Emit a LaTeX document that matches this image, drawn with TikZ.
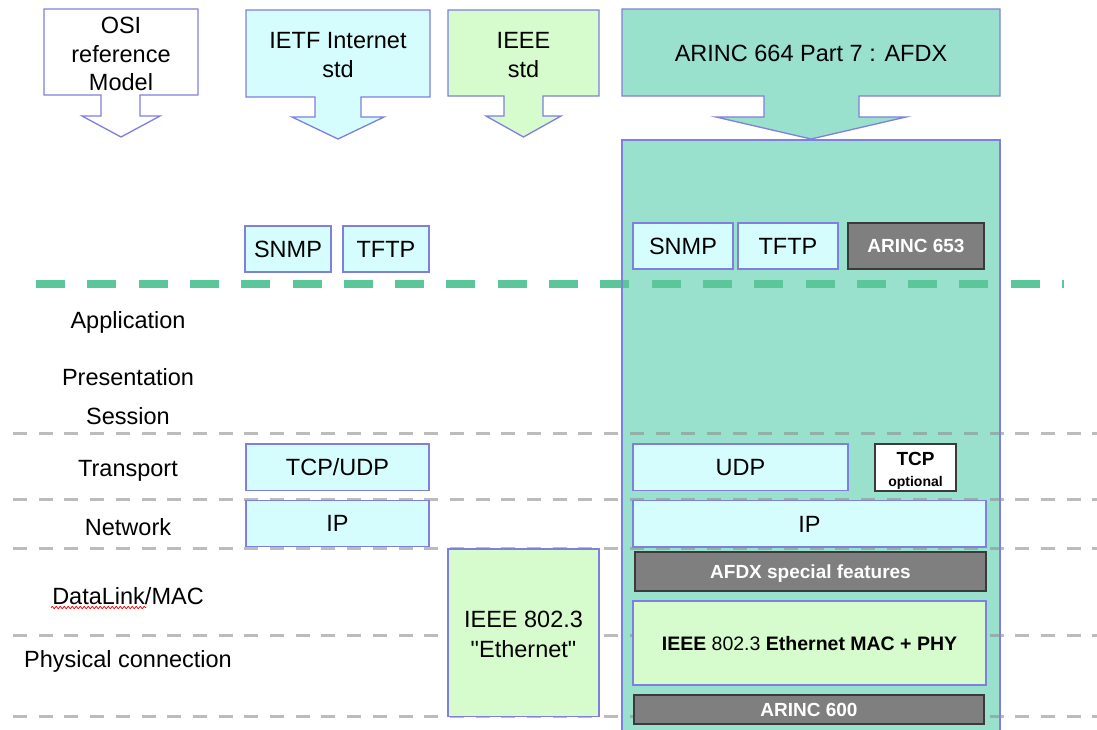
\documentclass[tikz,border=0pt]{standalone}
\usepackage{fontspec}
\setmainfont{Liberation Sans}[Ligatures=TeXOff]
\usetikzlibrary{decorations.pathmorphing}
\definecolor{bordblue}{HTML}{7F7FDF}
\definecolor{cyanf}{HTML}{D6FDFD}
\definecolor{greenf}{HTML}{D6FCCD}
\definecolor{tealf}{HTML}{99E1CC}
\definecolor{dashgreen}{HTML}{5CC69B}
\definecolor{darkf}{HTML}{7F7F7F}
\definecolor{darkb}{HTML}{3A3A3A}
\definecolor{dashgray}{HTML}{909090}
\tikzset{
  bord/.style={draw=bordblue, line width=1.3pt},
  bigfont/.style={font=\fontsize{23.5}{28}\selectfont},
  lbl/.style={bigfont, inner sep=0pt, anchor=base},
  cbox/.style={bord, fill=cyanf, inner sep=0pt, text height=16.8pt, text depth=0pt, bigfont},
  gbox/.style={bord, fill=greenf, inner sep=0pt},
  dbox/.style={draw=darkb, line width=1.3pt, fill=darkf, text=white, inner sep=0pt,
    font=\bfseries\fontsize{19}{23}\selectfont, text height=13.6pt, text depth=0pt},
  layerline/.style={draw=dashgray, opacity=0.6, line width=3pt, dash pattern=on 14pt off 11.7pt},
  appline/.style={draw=dashgreen, line width=8pt, dash pattern=on 29pt off 22.3pt},
}
\begin{document}
\begin{tikzpicture}[x=1pt,y=-1pt]
\useasboundingbox (0,0) rectangle (1097,729);
\fill[white] (0,0) rectangle (1097,729);

% header arrows
\draw[bord, fill=white] (44,9) -- (198,9) -- (198,95) -- (140,95) -- (140,116) -- (160,116)
  -- (121,137) -- (82,116) -- (101,116) -- (101,95) -- (44,95) -- cycle;
\draw[bord, fill=cyanf] (246,10) -- (430,10) -- (430,97) -- (361,97) -- (361,117) -- (384,117)
  -- (338,139) -- (292,117) -- (315,117) -- (315,97) -- (246,97) -- cycle;
\draw[bord, fill=greenf] (448,10) -- (599,10) -- (599,96) -- (543,96) -- (543,116) -- (561,116)
  -- (523.5,137) -- (486,116) -- (504,116) -- (504,96) -- (448,96) -- cycle;
\draw[bord, fill=tealf] (622,9) -- (1000,9) -- (1000,96) -- (859,96) -- (859,117) -- (906,117)
  -- (811,139) -- (716,117) -- (764,117) -- (764,96) -- (622,96) -- cycle;

% big AFDX column
\fill[tealf] (622,140) rectangle (1000,740);

% layer separators
\draw[layerline] (13,433) -- (1097,433);
\draw[layerline] (13,499) -- (1097,499);
\draw[layerline] (13,548) -- (1097,548);
\draw[layerline] (13,635) -- (1097,635);
\draw[layerline] (13,716) -- (1097,716);
\draw[appline] (36,284) -- (1064,284);

\draw[bord] (622,740) -- (622,140) -- (1000,140) -- (1000,740);

% header texts
\node[lbl] (osi1) at (121,33) {OSI};
\node[lbl] (osi2) at (121,62) {reference};
\node[lbl] (osi3) at (121,90) {Model};
\node[lbl] (ietf1) at (338,48) {IETF Internet};
\node[lbl] (ietf2) at (338,77) {std};
\node[lbl] (ieee1) at (523.5,48) {IEEE};
\node[lbl] (ieee2) at (523.5,77) {std};
\node[lbl] (afdxt) at (811,61.7) {ARINC 664 Part 7 : AFDX};

% layer labels
\node[lbl] (app) at (128,328) {Application};
\node[lbl] (pres) at (128,385) {Presentation};
\node[lbl] (sess) at (128,424) {Session};
\node[lbl] (trans) at (128,476) {Transport};
\node[lbl] (net) at (128,535) {Network};
\node[lbl] (dl) at (128,604) {DataLink/MAC};
\node[lbl] (phys) at (128,667) {Physical connection};
\draw[red!85!black, line width=0.7pt, decorate, decoration={snake, amplitude=1.1pt, segment length=4pt}]
  (51,607.5) -- (146,607.5);

% IETF column
\node[cbox, minimum width=86, minimum height=46] (snmpL) at (288,249) {SNMP};
\node[cbox, minimum width=86, minimum height=46] (tftpL) at (386,249) {TFTP};
\node[cbox, minimum width=183, minimum height=46.5] (tcpudpL) at (337.5,467.2) {TCP/UDP};
\node[cbox, minimum width=183, minimum height=46] (ipL) at (337.5,523.5) {IP};

% IEEE column
\node[gbox, minimum width=151, minimum height=167.5] (ieee8023) at (523.5,632.75) {};
\node[lbl] (ieeeA) at (523.5,627) {IEEE 802.3};
\node[lbl] (ieeeB) at (523.5,657) {"Ethernet"};

% AFDX column
\node[cbox, minimum width=100, minimum height=46] (snmpR) at (683,246) {SNMP};
\node[cbox, minimum width=100, minimum height=46] (tftpR) at (788,246) {TFTP};
\node[dbox, minimum width=136, minimum height=46] (a653) at (916,246) {ARINC 653};
\node[cbox, minimum width=215, minimum height=46.5] (udpR) at (740.5,467.25) {UDP};
\node[draw=darkb, line width=1.3pt, fill=white, minimum width=81, minimum height=47] (tcpopt) at (915.5,467.5) {};
\node[inner sep=0pt, anchor=base, font=\bfseries\fontsize{19}{23}\selectfont] (tcpt) at (915.5,465.7) {TCP};
\node[inner sep=0pt, anchor=base, font=\bfseries\fontsize{14}{17}\selectfont] (optt) at (915.5,486) {optional};
\node[cbox, minimum width=353, minimum height=46.5] (ipR) at (809.5,523.75) {IP};
\node[dbox, minimum width=351, minimum height=39] (afdxsf) at (810.5,571.5) {AFDX special features};
\node[gbox, minimum width=353, minimum height=84, font=\bfseries\fontsize{19.5}{23}\selectfont,
  text height=14pt, text depth=0pt] (ethmac) at (809.5,643) {IEEE \textmd{802.3} Ethernet MAC + PHY};
\node[dbox, minimum width=350, minimum height=29] (a600) at (809,709.5) {ARINC 600};
\end{tikzpicture}
\end{document}
